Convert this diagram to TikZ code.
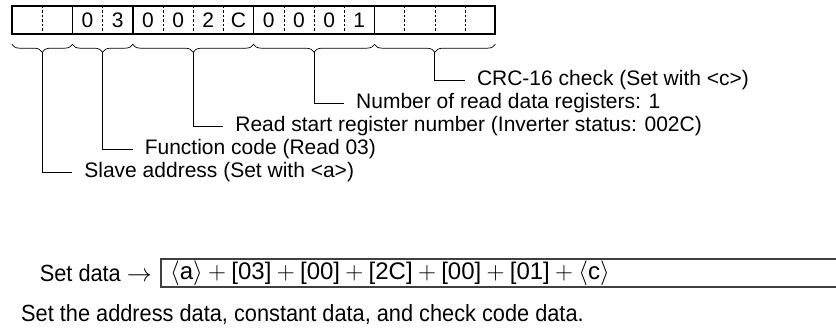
\documentclass[tikz,border=0pt]{standalone}
\usepackage{fontspec}
\setmainfont{Liberation Sans}
\newfontfamily\narrowfont[FakeStretch=0.93]{Liberation Sans}
\usetikzlibrary{decorations.pathreplacing}
\newcommand{\pls}{\:$+$\:}
\newcommand{\lbr}{$\langle$}
\newcommand{\rbr}{$\rangle$}

\begin{document}
\begin{tikzpicture}[x=1pt,y=1pt,
  cell/.style={minimum width=30.2pt,minimum height=28pt,inner sep=0pt,
    font=\fontsize{21}{25}\selectfont},
  field/.style={line width=1.2pt},
  subfield/.style={line width=0.7pt,dash pattern=on 2.5pt off 2pt},
  fieldbrace/.style={decorate,decoration={brace,mirror,amplitude=8pt},line width=0.7pt},
  leader/.style={line width=0.8pt},
  lbl/.style={anchor=west,inner xsep=12pt,inner ysep=0pt,
    font=\fontsize{21}{24}\selectfont},
  note/.style={inner sep=0pt,font=\narrowfont\fontsize{23.4}{28}\selectfont}]
\useasboundingbox (0,0) rectangle (836,-329);

% message frame
\foreach \i/\t in {0/,1/,2/0,3/3,4/0,5/0,6/2,7/C,8/0,9/0,10/0,11/1,12/,13/,14/,15/}
  \node[cell] (c\i) at (27.1+30.2*\i,-20) {\t};
\foreach \i in {0,2,4,5,6,8,9,10,12,13,14}
  \draw[subfield] (c\i.north east) -- (c\i.south east);
\foreach \i in {1,3,7,11}
  \draw[field] (c\i.north east) -- (c\i.south east);
\draw[line width=2pt] (c0.north west) rectangle (c15.south east);

% braces under the fields
\foreach \a/\b/\n in {0/1/slave,2/3/func,4/7/start,8/11/count,12/15/crc}{
  \draw[fieldbrace] ([yshift=-10pt]c\a.south west) -- ([yshift=-10pt]c\b.south east);
  \path ([yshift=-10pt]c\a.south west) -- ([yshift=-10pt]c\b.south east)
    coordinate[midway,yshift=-8pt] (tip\n);
}

% labels
\node[lbl] (crc) at ([xshift=30pt]tipcrc |- 0,-80) {CRC-16 check (Set with <c>)};
\node[lbl] (count) at ([xshift=30pt]tipcount |- 0,-103) {Number of read data registers: 1};
\node[lbl] (start) at ([xshift=30pt]tipstart |- 0,-126) {Read start register number (Inverter status: 002C)};
\node[lbl] (func) at ([xshift=30pt]tipfunc |- 0,-149) {Function code (Read 03)};
\node[lbl] (slave) at ([xshift=30pt]tipslave |- 0,-172) {Slave address (Set with <a>)};
\foreach \n in {crc,count,start,func,slave}
  \draw[leader] (tip\n) |- (\n.west);

% set data line
\node[note,anchor=east] (setdata) at (152,-273) {Set data $\rightarrow$};
\draw[line width=1.3pt,draw=black!75] (161,-259) rectangle (850,-287);
\node[anchor=west,inner sep=0pt,font=\fontsize{24}{28}\selectfont] (value) at (170,-273)
  {\lbr a\rbr\pls[03]\pls[00]\pls[2C]\pls[00]\pls[01]\pls\lbr c\rbr};

\node[note,anchor=west] (text) at (21,-315)
  {Set the address data, constant data, and check code data.};
\end{tikzpicture}
\end{document}
